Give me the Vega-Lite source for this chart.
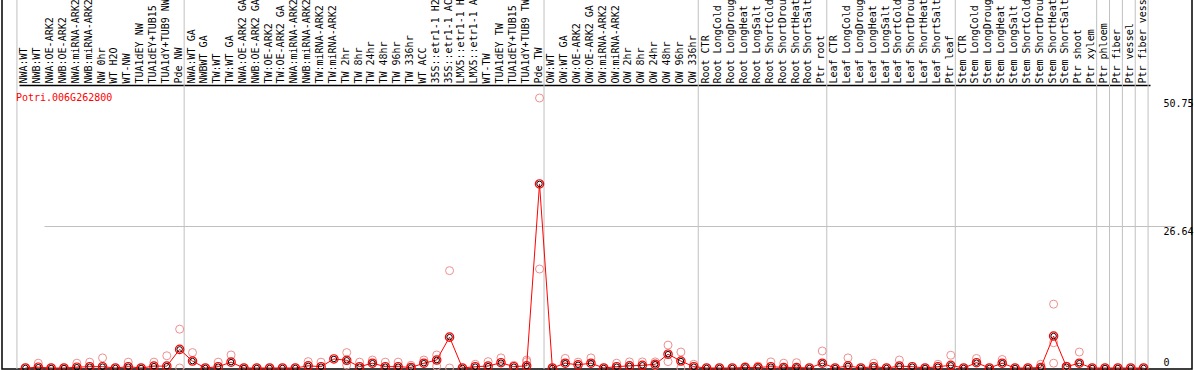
{
  "$schema": "https://vega.github.io/schema/vega-lite/v6.json",
  "width": 1190,
  "height": 370,
  "autosize": {"type": "none"},
  "padding": {"left": 2, "top": -1, "right": 2, "bottom": 1},
  "background": "white",
  "config": {
    "view": {"stroke": "black", "strokeWidth": 1.5},
    "font": "DejaVu Sans Mono"
  },
  "datasets": {
    "means": [
      {"sample": "NWA:WT", "value": 0},
      {"sample": "NWB:WT", "value": 0.15},
      {"sample": "NWA:OE-ARK2", "value": 0},
      {"sample": "NWB:OE-ARK2", "value": 0},
      {"sample": "NWA:miRNA-ARK2", "value": 0.15},
      {"sample": "NWB:miRNA-ARK2", "value": 0.25},
      {"sample": "NW 0hr", "value": 0.25},
      {"sample": "WT H2O", "value": 0},
      {"sample": "WT-NW", "value": 0.25},
      {"sample": "TUA1dEY NW", "value": 0},
      {"sample": "TUA1dEY+TUB15 NW", "value": 0.35},
      {"sample": "TUA1dY+TUB9 NW", "value": 0.35},
      {"sample": "Pde NW", "value": 3.5},
      {"sample": "NWA:WT GA", "value": 1.3},
      {"sample": "NWBWT GA", "value": 0},
      {"sample": "TW:WT", "value": 0.25},
      {"sample": "TW:WT GA", "value": 1.1},
      {"sample": "NWA:OE-ARK2 GA", "value": 0},
      {"sample": "NWB:OE-ARK2 GA", "value": 0},
      {"sample": "TW:OE-ARK2", "value": 0},
      {"sample": "TW:OE-ARK2 GA", "value": 0},
      {"sample": "NWA:miRNA-ARK2 GA", "value": 0},
      {"sample": "NWB:miRNA-ARK2 GA", "value": 0.4},
      {"sample": "TW:miRNA-ARK2", "value": 0.25},
      {"sample": "TW:miRNA-ARK2 GA", "value": 1.7},
      {"sample": "TW 2hr", "value": 1.45},
      {"sample": "TW 8hr", "value": 0.25},
      {"sample": "TW 24hr", "value": 0.9},
      {"sample": "TW 48hr", "value": 0.25},
      {"sample": "TW 96hr", "value": 0.25},
      {"sample": "TW 336hr", "value": 0.1},
      {"sample": "WT ACC", "value": 0.9},
      {"sample": "35S::etr1-1 H2O", "value": 1.5},
      {"sample": "35S::etr1-1 ACC", "value": 5.8},
      {"sample": "LMX5::etr1-1 H2O", "value": 0},
      {"sample": "LMX5::etr1-1 ACC", "value": 0.25},
      {"sample": "WT-TW", "value": 0.35},
      {"sample": "TUA1dEY TW", "value": 1.0},
      {"sample": "TUA1dEY+TUB15 TW", "value": 0.25},
      {"sample": "TUA1dY+TUB9 TW", "value": 0.4},
      {"sample": "Pde TW", "value": 34.6},
      {"sample": "OW:WT", "value": 0},
      {"sample": "OW:WT GA", "value": 0.9},
      {"sample": "OW:OE-ARK2", "value": 0.6},
      {"sample": "OW:OE-ARK2 GA", "value": 0.9},
      {"sample": "OW:miRNA-ARK2", "value": 0},
      {"sample": "OW:miRNA-ARK2 GA", "value": 0.25},
      {"sample": "OW 2hr", "value": 0.4},
      {"sample": "OW 8hr", "value": 0.5},
      {"sample": "OW 24hr", "value": 0.7},
      {"sample": "OW 48hr", "value": 2.6},
      {"sample": "OW 96hr", "value": 1.3},
      {"sample": "OW 336hr", "value": 0.25},
      {"sample": "Root CTR", "value": 0},
      {"sample": "Root LongCold", "value": 0},
      {"sample": "Root LongDrought", "value": 0},
      {"sample": "Root LongHeat", "value": 0.1},
      {"sample": "Root LongSalt", "value": 0.1},
      {"sample": "Root ShortCold", "value": 0.25},
      {"sample": "Root ShortDrought", "value": 0.1},
      {"sample": "Root ShortHeat", "value": 0.1},
      {"sample": "Root ShortSalt", "value": 0},
      {"sample": "Ptr root", "value": 0.9},
      {"sample": "Leaf CTR", "value": 0},
      {"sample": "Leaf LongCold", "value": 0.4},
      {"sample": "Leaf LongDrought", "value": 0},
      {"sample": "Leaf LongHeat", "value": 0.25},
      {"sample": "Leaf LongSalt", "value": 0},
      {"sample": "Leaf ShortCold", "value": 0.35},
      {"sample": "Leaf ShortDrought", "value": 0.25},
      {"sample": "Leaf ShortHeat", "value": 0},
      {"sample": "Leaf ShortSalt", "value": 0.25},
      {"sample": "Ptr leaf", "value": 0.5},
      {"sample": "Stem CTR", "value": 0},
      {"sample": "Stem LongCold", "value": 1.0},
      {"sample": "Stem LongDrought", "value": 0},
      {"sample": "Stem LongHeat", "value": 0.9},
      {"sample": "Stem LongSalt", "value": 0},
      {"sample": "Stem ShortCold", "value": 0},
      {"sample": "Stem ShortDrought", "value": 0.1},
      {"sample": "Stem ShortHeat", "value": 6.0},
      {"sample": "Stem ShortSalt", "value": 0.25},
      {"sample": "Ptr shoot", "value": 0.9},
      {"sample": "Ptr xylem", "value": 0},
      {"sample": "Ptr phloem", "value": 0},
      {"sample": "Ptr fiber", "value": 0},
      {"sample": "Ptr vessel", "value": 0},
      {"sample": "Ptr fiber vessel", "value": 0}
    ],
    "reps": [
      {"sample": "NWB:WT", "value": 0.9},
      {"sample": "NWA:miRNA-ARK2", "value": 0.9},
      {"sample": "NWB:miRNA-ARK2", "value": 1.1},
      {"sample": "NW 0hr", "value": 1.9},
      {"sample": "WT-NW", "value": 1.1},
      {"sample": "TUA1dEY+TUB15 NW", "value": 1.1},
      {"sample": "TUA1dY+TUB9 NW", "value": 2.3},
      {"sample": "Pde NW", "value": 7.3},
      {"sample": "Pde NW", "value": 0},
      {"sample": "NWA:WT GA", "value": 2.9},
      {"sample": "TW:WT", "value": 1.1},
      {"sample": "TW:WT GA", "value": 2.45},
      {"sample": "NWB:miRNA-ARK2 GA", "value": 1.2},
      {"sample": "TW:miRNA-ARK2", "value": 1.1},
      {"sample": "TW 2hr", "value": 2.9},
      {"sample": "TW 2hr", "value": 0.55},
      {"sample": "TW 8hr", "value": 1.1},
      {"sample": "TW 24hr", "value": 1.5},
      {"sample": "TW 48hr", "value": 1.1},
      {"sample": "TW 96hr", "value": 1.1},
      {"sample": "TW 336hr", "value": 0.5},
      {"sample": "WT ACC", "value": 1.5},
      {"sample": "35S::etr1-1 H2O", "value": 2.45},
      {"sample": "35S::etr1-1 H2O", "value": 0.35},
      {"sample": "35S::etr1-1 ACC", "value": 18.3},
      {"sample": "35S::etr1-1 ACC", "value": 0},
      {"sample": "LMX5::etr1-1 ACC", "value": 0.7},
      {"sample": "WT-TW", "value": 1.2},
      {"sample": "TUA1dEY TW", "value": 1.9},
      {"sample": "TUA1dEY+TUB15 TW", "value": 0.5},
      {"sample": "TUA1dY+TUB9 TW", "value": 1.5},
      {"sample": "TUA1dY+TUB9 TW", "value": 1.2},
      {"sample": "Pde TW", "value": 50.75},
      {"sample": "Pde TW", "value": 18.6},
      {"sample": "OW:WT GA", "value": 1.8},
      {"sample": "OW:OE-ARK2", "value": 1.1},
      {"sample": "OW:OE-ARK2 GA", "value": 1.9},
      {"sample": "OW:miRNA-ARK2 GA", "value": 0.9},
      {"sample": "OW 2hr", "value": 1.15},
      {"sample": "OW 8hr", "value": 1.15},
      {"sample": "OW 24hr", "value": 1.15},
      {"sample": "OW 24hr", "value": 0.5},
      {"sample": "OW 48hr", "value": 4.3},
      {"sample": "OW 48hr", "value": 1.2},
      {"sample": "OW 96hr", "value": 3.0},
      {"sample": "OW 96hr", "value": 0},
      {"sample": "OW 336hr", "value": 0.7},
      {"sample": "Root LongHeat", "value": 0.25},
      {"sample": "Root LongSalt", "value": 0.35},
      {"sample": "Root ShortCold", "value": 1.15},
      {"sample": "Root ShortDrought", "value": 0.9},
      {"sample": "Root ShortHeat", "value": 1.0},
      {"sample": "Ptr root", "value": 3.2},
      {"sample": "Leaf LongCold", "value": 1.9},
      {"sample": "Leaf LongHeat", "value": 0.9},
      {"sample": "Leaf ShortCold", "value": 1.5},
      {"sample": "Leaf ShortSalt", "value": 0.7},
      {"sample": "Ptr leaf", "value": 2.4},
      {"sample": "Stem LongCold", "value": 1.8},
      {"sample": "Stem LongHeat", "value": 1.6},
      {"sample": "Stem ShortDrought", "value": 0.7},
      {"sample": "Stem ShortHeat", "value": 12.0},
      {"sample": "Stem ShortHeat", "value": 4.75},
      {"sample": "Stem ShortHeat", "value": 0.9},
      {"sample": "Stem ShortSalt", "value": 0.35},
      {"sample": "Ptr shoot", "value": 3.0}
    ],
    "groupEnds": [
      {"sample": "Pde NW"},
      {"sample": "Pde TW"},
      {"sample": "OW 336hr"},
      {"sample": "Ptr root"},
      {"sample": "Ptr leaf"},
      {"sample": "Ptr xylem"},
      {"sample": "Ptr phloem"},
      {"sample": "Ptr fiber"},
      {"sample": "Ptr vessel"},
      {"sample": "Ptr fiber vessel"}
    ],
    "gene": [{"name": "Potri.006G262800"}]
  },
  "encoding": {
    "x": {
      "field": "sample",
      "type": "nominal",
      "sort": null,
      "scale": {
        "type": "point",
        "range": [17, 1148],
        "domain": ["NWA:WT", "NWB:WT", "NWA:OE-ARK2", "NWB:OE-ARK2", "NWA:miRNA-ARK2", "NWB:miRNA-ARK2", "NW 0hr", "WT H2O", "WT-NW", "TUA1dEY NW", "TUA1dEY+TUB15 NW", "TUA1dY+TUB9 NW", "Pde NW", "NWA:WT GA", "NWBWT GA", "TW:WT", "TW:WT GA", "NWA:OE-ARK2 GA", "NWB:OE-ARK2 GA", "TW:OE-ARK2", "TW:OE-ARK2 GA", "NWA:miRNA-ARK2 GA", "NWB:miRNA-ARK2 GA", "TW:miRNA-ARK2", "TW:miRNA-ARK2 GA", "TW 2hr", "TW 8hr", "TW 24hr", "TW 48hr", "TW 96hr", "TW 336hr", "WT ACC", "35S::etr1-1 H2O", "35S::etr1-1 ACC", "LMX5::etr1-1 H2O", "LMX5::etr1-1 ACC", "WT-TW", "TUA1dEY TW", "TUA1dEY+TUB15 TW", "TUA1dY+TUB9 TW", "Pde TW", "OW:WT", "OW:WT GA", "OW:OE-ARK2", "OW:OE-ARK2 GA", "OW:miRNA-ARK2", "OW:miRNA-ARK2 GA", "OW 2hr", "OW 8hr", "OW 24hr", "OW 48hr", "OW 96hr", "OW 336hr", "Root CTR", "Root LongCold", "Root LongDrought", "Root LongHeat", "Root LongSalt", "Root ShortCold", "Root ShortDrought", "Root ShortHeat", "Root ShortSalt", "Ptr root", "Leaf CTR", "Leaf LongCold", "Leaf LongDrought", "Leaf LongHeat", "Leaf LongSalt", "Leaf ShortCold", "Leaf ShortDrought", "Leaf ShortHeat", "Leaf ShortSalt", "Ptr leaf", "Stem CTR", "Stem LongCold", "Stem LongDrought", "Stem LongHeat", "Stem LongSalt", "Stem ShortCold", "Stem ShortDrought", "Stem ShortHeat", "Stem ShortSalt", "Ptr shoot", "Ptr xylem", "Ptr phloem", "Ptr fiber", "Ptr vessel", "Ptr fiber vessel"]
      },
      "axis": {
        "orient": "top",
        "offset": -86,
        "title": null,
        "labelAngle": 270,
        "labelAlign": "left",
        "labelBaseline": "middle",
        "labelPadding": 2,
        "labelOffset": -1.5,
        "labelFont": "DejaVu Sans Mono",
        "labelFontSize": 10,
        "labelColor": "black",
        "labelOverlap": false,
        "labelBound": false,
        "labelLimit": 0,
        "ticks": false,
        "tickSize": 0,
        "grid": false,
        "domain": true,
        "domainColor": "black",
        "domainWidth": 1.5
      }
    }
  },
  "layer": [
    {
      "data": {"name": "groupEnds"},
      "mark": {"type": "rule", "color": "#c0c0c0", "strokeWidth": 1},
      "encoding": {"xOffset": {"value": 4.5}}
    },
    {
      "data": {"name": "gene"},
      "mark": {"type": "rule", "color": "#c0c0c0", "strokeWidth": 1},
      "encoding": {
        "x": {"datum": "NWA:WT", "type": "nominal"},
        "xOffset": {"value": -8.5}
      }
    },
    {
      "data": {"name": "reps"},
      "mark": {"type": "point", "shape": "circle", "filled": false, "size": 64, "strokeWidth": 1, "color": "#ee9090", "opacity": 1},
      "encoding": {
        "y": {
          "field": "value",
          "type": "quantitative",
          "scale": {"domain": [-0.188, 69.36], "nice": false, "zero": false},
          "axis": {
            "orient": "right",
            "offset": -31,
            "title": null,
            "values": [0, 26.64, 50.75],
            "labelExpr": "datum.value === 0 ? '0' : format(datum.value, '.2f')",
            "labelFont": "DejaVu Sans Mono",
            "labelFontSize": 10,
            "labelColor": "black",
            "labelAlign": "left",
            "labelPadding": 2,
            "labelBaseline": {"condition": {"test": "datum.value === 0", "value": "bottom"}, "value": "top"},
            "ticks": false,
            "tickSize": 0,
            "domain": false,
            "grid": true,
            "gridColor": "#c0c0c0",
            "gridWidth": 1,
            "gridOpacity": {"condition": {"test": "datum.value === 26.64", "value": 1}, "value": 0}
          }
        }
      }
    },
    {
      "data": {"name": "means"},
      "mark": {"type": "line", "color": "#ff0000", "strokeWidth": 1},
      "encoding": {"y": {"field": "value", "type": "quantitative"}}
    },
    {
      "data": {"name": "means"},
      "mark": {"type": "point", "shape": "circle", "filled": false, "size": 70, "strokeWidth": 1.2, "color": "#ff0000", "opacity": 1},
      "encoding": {"y": {"field": "value", "type": "quantitative"}}
    },
    {
      "data": {"name": "means"},
      "mark": {"type": "point", "shape": "circle", "filled": false, "size": 30, "strokeWidth": 1, "color": "black", "opacity": 1},
      "encoding": {"y": {"field": "value", "type": "quantitative"}}
    },
    {
      "data": {"name": "gene"},
      "mark": {"type": "text", "color": "#ff0000", "font": "DejaVu Sans Mono", "fontSize": 10, "align": "left", "baseline": "middle", "dx": -9.5},
      "encoding": {
        "x": {"datum": "NWA:WT", "type": "nominal"},
        "y": {"datum": 50.75, "type": "quantitative"},
        "text": {"field": "name"}
      }
    }
  ]
}
